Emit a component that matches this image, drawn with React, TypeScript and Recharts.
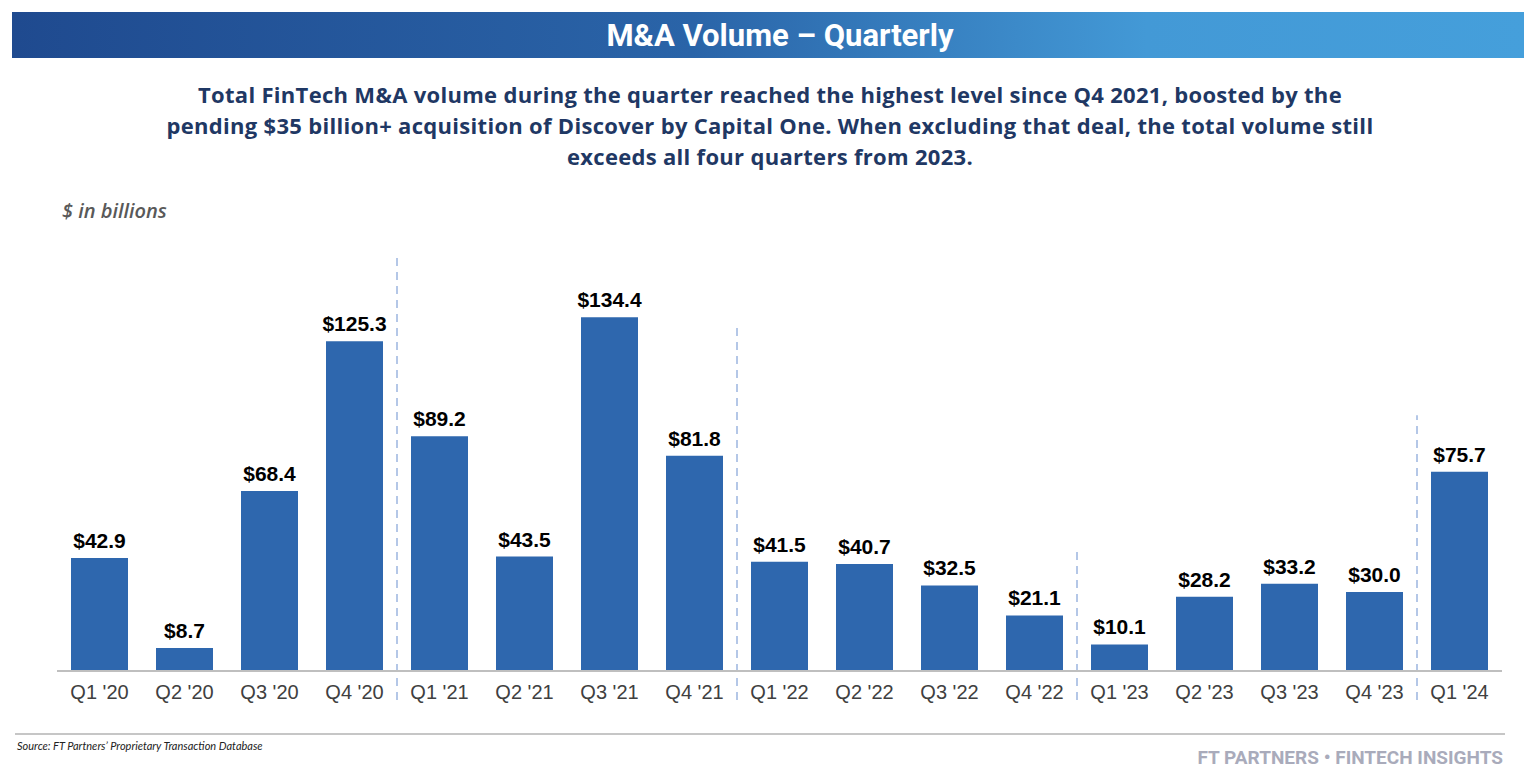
import { BarChart, Bar, XAxis, YAxis, LabelList, ReferenceLine } from "recharts";

const quarters = [
    "Q1 '20", "Q2 '20", "Q3 '20", "Q4 '20",
    "Q1 '21", "Q2 '21", "Q3 '21", "Q4 '21",
    "Q1 '22", "Q2 '22", "Q3 '22", "Q4 '22",
    "Q1 '23", "Q2 '23", "Q3 '23", "Q4 '23",
    "Q1 '24",
];
const volumes = [
    42.9, 8.7, 68.4, 125.3,
    89.2, 43.5, 134.4, 81.8,
    41.5, 40.7, 32.5, 21.1,
    10.1, 28.2, 33.2, 30.0,
    75.7,
];
// year dividers: drawn at the left edge of the first quarter of each year
const dividerAt  = ["Q1 '21", "Q1 '22", "Q1 '23", "Q1 '24"];
const dividerTop = [158, 130.6, 45.6, 97.2];
const dividerBottom = -11;

const subtitle = [
    "Total FinTech M&A volume during the quarter reached the highest level since Q4 2021, boosted by the",
    "pending $35 billion+ acquisition of Discover by Capital One. When excluding that deal, the total volume still",
    "exceeds all four quarters from 2023.",
];

const data = quarters.map((q, i) => ({ q, v: volumes[i] }));

const BAR  = "#2e67ae";
const DASH = "#b4c7e7";
const sans = "'Liberation Sans', Arial, sans-serif";

export default function App() {
    return (
        <div style={{ position: "absolute", left: 0, top: 0, width: 1524, height: 782, background: "#fff", overflow: "hidden" }}>
            <div style={{
                position: "absolute", left: 12, top: 12, width: 1512, height: 46,
                background: "linear-gradient(90deg, #1f4a8f 0%, #2a64a8 45%, #4399d6 75%, #459fdb 100%)",
                color: "#fff", fontFamily: "Roboto, sans-serif", fontWeight: 700, fontSize: 31,
                display: "flex", alignItems: "center", justifyContent: "center",
            }}>
                <span style={{ position: "relative", left: 12 }}>M&amp;A Volume – Quarterly</span>
            </div>

            <div style={{
                position: "absolute", left: 0, top: 79, width: 1540, textAlign: "center",
                color: "#1f3864", fontFamily: "'Open Sans', sans-serif", fontWeight: 700, fontSize: 22,
                lineHeight: "31px", letterSpacing: 0.3,
            }}>
                {subtitle.map(s => <div key={s}>{s}</div>)}
            </div>

            <div style={{
                position: "absolute", left: 62, top: 197, color: "#595959",
                fontFamily: "'Open Sans', sans-serif", fontStyle: "italic", fontWeight: 600, fontSize: 20,
            }}>
                $ in billions
            </div>

            <div style={{ position: "absolute", left: 0, top: 0 }}>
                <BarChart width={1524} height={782} data={data}
                          margin={{ top: 250, left: 57, right: 22, bottom: 71 }}
                          barCategoryGap={14}>
                    <XAxis dataKey="q" height={40} tickLine={false} tickMargin={8}
                           axisLine={{ stroke: "#bfbfbf", strokeWidth: 2 }}
                           tick={{ fill: "#404040", fontSize: 20, fontFamily: sans }}
                           interval={0} />
                    <YAxis hide domain={[0, 160]} />
                    {dividerAt.map((q, i) => (
                        <ReferenceLine key={q} position="start" ifOverflow="visible"
                                       segment={[{ x: q, y: dividerBottom }, { x: q, y: dividerTop[i] }]}
                                       stroke={DASH} strokeWidth={2} strokeDasharray="8 6" />
                    ))}
                    <Bar dataKey="v" fill={BAR} isAnimationActive={false}>
                        <LabelList dataKey="v" position="top" offset={10}
                                   formatter={(v: any) => `$${Number(v).toFixed(1)}`}
                                   style={{ fill: "#000", fontSize: 21, fontWeight: 700, fontFamily: sans }} />
                    </Bar>
                </BarChart>
            </div>

            <div style={{ position: "absolute", left: 15, top: 733, width: 1490, height: 2, background: "#c6c6c6" }} />
            <div style={{
                position: "absolute", left: 17, top: 739, fontSize: 11, fontStyle: "italic",
                color: "#222", fontFamily: "Lato, sans-serif",
            }}>
                Source: FT Partners’ Proprietary Transaction Database
            </div>
            <div style={{
                position: "absolute", right: 21, top: 746, fontSize: 19, fontWeight: 700,
                color: "#a9abbb", fontFamily: "Roboto, sans-serif",
            }}>
                FT PARTNERS • FINTECH INSIGHTS
            </div>
        </div>
    );
}
